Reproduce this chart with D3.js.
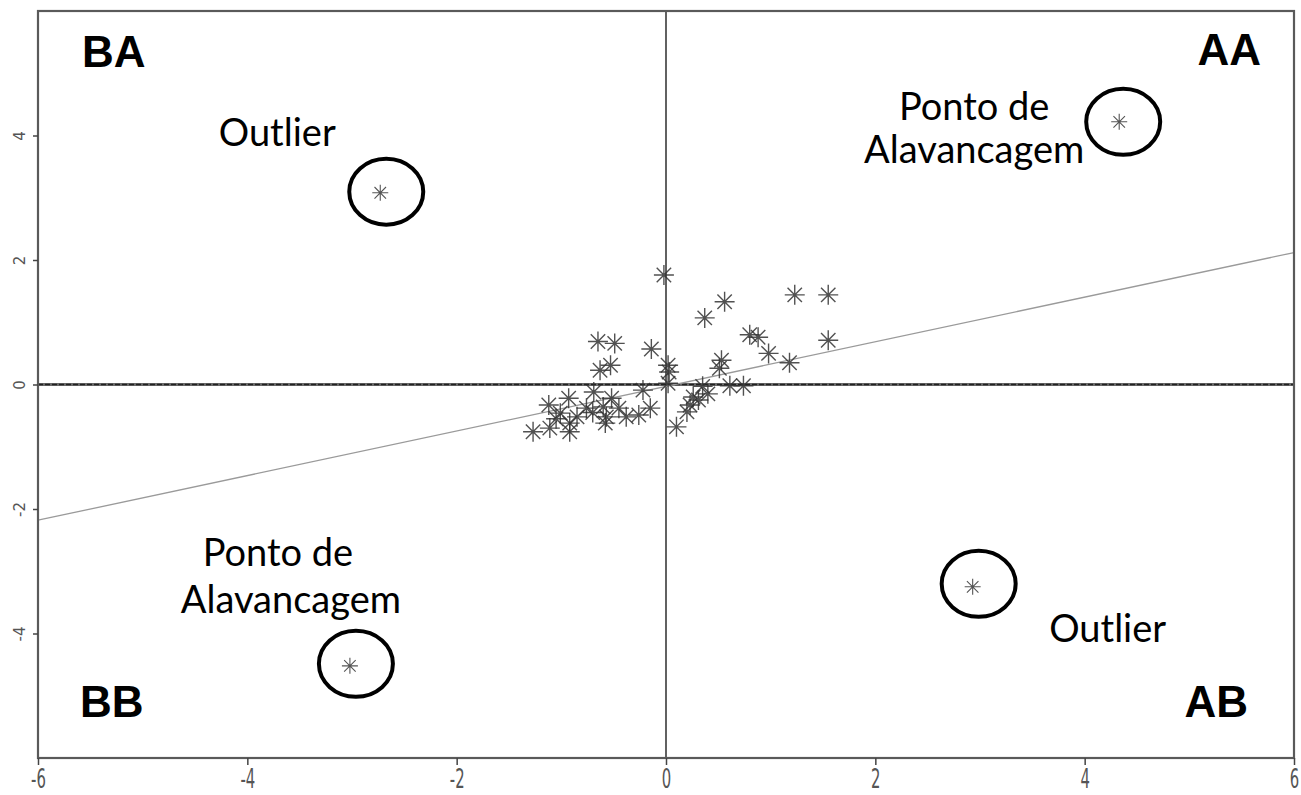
<!DOCTYPE html>
<html>
<head>
<meta charset="utf-8">
<script src="https://cdn.jsdelivr.net/npm/d3@7"></script>
<style>
  body { margin: 0; background: #fff; }
  svg { display: block; }
</style>
</head>
<body>
<svg id="chart" width="1301" height="795"></svg>
<script>
// Axis ticks
const xTicks = [-6, -4, -2, 0, 2, 4, 6];
const yTicks = [-4, -2, 0, 2, 4];

// Main cloud of observations (standardised x, y)
const clusterX = [-1.27, -1.11, -1.12, -1.01, -0.93, -0.92, -0.92, -0.85, -0.76, -0.69,
                  -0.65, -0.63, -0.60, -0.58, -0.57, -0.53, -0.52, -0.49, -0.38, -0.26,
                  -0.22, -0.15, -0.14, -0.02, 0.02, 0.03, 0.02, 0.10, 0.20, 0.23,
                  0.26, 0.31, 0.35, 0.40, 0.37, 0.51, 0.53, 0.56, 0.61, 0.74,
                  0.80, 0.88, 0.98, 1.18, 1.23, 1.55, 1.55, -0.70, -0.45, -1.05];
const clusterY = [-0.76, -0.70, -0.33, -0.46, -0.22, -0.62, -0.76, -0.52, -0.38, -0.12,
                  0.69, 0.23, -0.36, -0.62, -0.52, 0.31, -0.22, 0.66, -0.52, -0.49,
                  -0.09, -0.38, 0.57, 1.76, 0.31, 0.20, 0.02, -0.68, -0.44, -0.33,
                  -0.20, -0.25, -0.03, -0.15, 1.07, 0.26, 0.39, 1.33, -0.02, -0.02,
                  0.80, 0.76, 0.50, 0.35, 1.44, 1.44, 0.71, -0.45, -0.38, -0.55];

// Extreme observations, one per quadrant: BA, AA, BB, AB
const extremeX = [-2.73, 4.33, -3.02, 2.93];
const extremeY = [3.08, 4.22, -4.52, -3.25];

// Fitted regression line end points
const fitX = [-6, 6];
const fitY = [-2.18, 2.12];

// Quadrant names and callouts for the circled observations
const quadrantLabels = ["BA", "AA", "BB", "AB"];
const calloutLines = [["Outlier"], ["Ponto de", "Alavancagem"], ["Ponto de", "Alavancagem"], ["Outlier"]];

const svg = d3.select("#chart");
const frame = { left: 38, right: 1294, top: 11, bottom: 758 };

const x = d3.scaleLinear().domain([-6, 6]).range([frame.left, frame.right]);
const y = d3.scaleLinear().domain([-6, 6]).range([frame.bottom, frame.top]);

// Reference lines through the origin
svg.append("line")
  .attr("x1", x(0)).attr("x2", x(0))
  .attr("y1", frame.top).attr("y2", frame.bottom)
  .attr("stroke", "#3a3a3a").attr("stroke-width", 1.6);

svg.append("line")
  .attr("x1", frame.left).attr("x2", frame.right)
  .attr("y1", y(0)).attr("y2", y(0))
  .attr("stroke", "#6a6a6a").attr("stroke-width", 3);
svg.append("line")
  .attr("x1", frame.left).attr("x2", frame.right)
  .attr("y1", y(0)).attr("y2", y(0))
  .attr("stroke", "#222").attr("stroke-width", 1.4)
  .attr("stroke-dasharray", "5,2");

// Regression line
svg.append("line")
  .attr("x1", x(fitX[0])).attr("y1", y(fitY[0]))
  .attr("x2", x(fitX[1])).attr("y2", y(fitY[1]))
  .attr("stroke", "#9a9a9a").attr("stroke-width", 1.3);

// Asterisk marker (plus and cross overlaid)
function asterisk(r) {
  const d = r * 0.72;
  return `M${-r},0L${r},0M0,${-r}L0,${r}M${-d},${-d}L${d},${d}M${-d},${d}L${d},${-d}`;
}

const cluster = d3.range(clusterX.length).map(i => ({ x: clusterX[i], y: clusterY[i] }));
svg.append("g").selectAll("path").data(cluster).join("path")
  .attr("transform", d => `translate(${x(d.x)},${y(d.y)})`)
  .attr("d", asterisk(10))
  .attr("fill", "none")
  .attr("stroke", "#333")
  .attr("stroke-opacity", 0.85)
  .attr("stroke-width", 1.4);

const extremes = d3.range(extremeX.length).map(i => ({ x: extremeX[i], y: extremeY[i] }));
svg.append("g").selectAll("path").data(extremes).join("path")
  .attr("transform", d => `translate(${x(d.x)},${y(d.y)})`)
  .attr("d", asterisk(8))
  .attr("fill", "none")
  .attr("stroke", "#555")
  .attr("stroke-width", 1.1);

// Highlight rings around the extreme observations
const ringOffsets = [[6, -1], [4, 0], [6, -2], [6, -3]];
svg.append("g").selectAll("ellipse").data(extremes).join("ellipse")
  .attr("cx", (d, i) => x(d.x) + ringOffsets[i][0])
  .attr("cy", (d, i) => y(d.y) + ringOffsets[i][1])
  .attr("rx", 37).attr("ry", 33)
  .attr("fill", "none")
  .attr("stroke", "#000")
  .attr("stroke-width", 4);

// Callout text next to each ring
const calloutAnchor = [
  [[-103, -47]],
  [[-145, -2], [-145, 41]],
  [[-72, -100], [-59, -53]],
  [[135, 55]]
];
const callouts = svg.append("g")
  .attr("font-family", "Lato, 'Open Sans', sans-serif")
  .attr("font-size", 38)
  .attr("fill", "#000")
  .attr("text-anchor", "middle");
extremes.forEach((d, i) => {
  calloutLines[i].forEach((line, j) => {
    callouts.append("text")
      .attr("x", x(d.x) + calloutAnchor[i][j][0])
      .attr("y", y(d.y) + calloutAnchor[i][j][1])
      .text(line);
  });
});

// Quadrant names
const quadPos = [
  { x: 82, y: 67, anchor: "start" },
  { x: 1261, y: 65, anchor: "end" },
  { x: 80, y: 717, anchor: "start" },
  { x: 1248, y: 717, anchor: "end" }
];
svg.append("g").selectAll("text").data(quadrantLabels).join("text")
  .attr("x", (d, i) => quadPos[i].x)
  .attr("y", (d, i) => quadPos[i].y)
  .attr("text-anchor", (d, i) => quadPos[i].anchor)
  .attr("font-family", "'Liberation Sans', Arial, sans-serif")
  .attr("font-weight", "bold")
  .attr("font-size", 44)
  .attr("fill", "#000")
  .text(d => d);

// Plot frame
svg.append("rect")
  .attr("x", frame.left).attr("y", frame.top)
  .attr("width", frame.right - frame.left)
  .attr("height", frame.bottom - frame.top)
  .attr("fill", "none")
  .attr("stroke", "#5a5a5a")
  .attr("stroke-width", 2.2);

// Bottom axis
const xAxis = svg.append("g")
  .attr("transform", `translate(0,${frame.bottom})`)
  .call(d3.axisBottom(x).tickValues(xTicks).tickSize(7).tickFormat(d3.format("d")));
xAxis.select(".domain").remove();
xAxis.selectAll(".tick line").attr("stroke", "#444").attr("stroke-width", 1.5);
xAxis.selectAll(".tick text")
  .attr("font-family", "'DejaVu Sans', sans-serif")
  .attr("font-size", 27)
  .attr("fill", "#555")
  .attr("dy", 0)
  .attr("y", 0)
  .attr("transform", "translate(0,30) scale(0.55,1)")
  .text(d => d < 0 ? "-" + Math.abs(d) : d);

// Left axis, labels parallel to the axis
const yAxis = svg.append("g")
  .attr("transform", `translate(${frame.left},0)`)
  .call(d3.axisLeft(y).tickValues(yTicks).tickSize(5).tickFormat(d3.format("d")));
yAxis.select(".domain").remove();
yAxis.selectAll(".tick line").attr("stroke", "#444").attr("stroke-width", 1.5);
yAxis.selectAll(".tick text")
  .attr("font-family", "'DejaVu Sans', sans-serif")
  .attr("font-size", 15)
  .attr("fill", "#555")
  .attr("x", 0).attr("dy", 0)
  .attr("text-anchor", "middle")
  .attr("transform", "translate(-18,0) rotate(-90) translate(0,5)")
  .text(d => d < 0 ? "-" + Math.abs(d) : d);
</script>
</body>
</html>
